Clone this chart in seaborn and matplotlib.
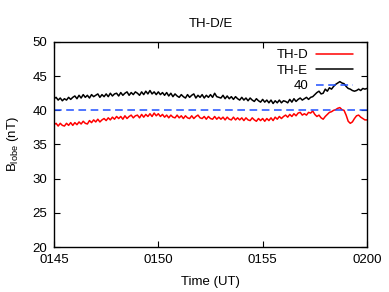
import numpy as np
import pandas as pd
import matplotlib
matplotlib.use("Agg")
import matplotlib.pyplot as plt
import seaborn as sns

# minutes after 01:45 UT, 0.1-min sampling
minutes = np.round(np.arange(0, 151) * 0.1, 1)

th_e = [
    41.7, 41.9, 41.5, 41.8, 41.4, 41.7, 41.5, 41.9, 41.6, 41.9,
    42.1, 41.7, 42.2, 41.8, 42.3, 41.9, 42.2, 41.8, 42.3, 42.0,
    42.2, 42.4, 41.9, 42.3, 42.0, 42.4, 42.0, 42.5, 42.1, 42.4,
    42.5, 42.1, 42.6, 42.2, 42.5, 42.7, 42.2, 42.6, 42.3, 42.7,
    42.5, 42.2, 42.7, 42.3, 42.8, 42.4, 42.9, 42.4, 42.7, 42.3,
    42.7, 42.3, 42.6, 42.2, 42.6, 42.1, 42.5, 42.0, 42.4, 42.1,
    41.9, 42.3, 42.0, 41.8, 42.3, 41.9, 42.2, 42.4, 41.8, 42.2,
    41.9, 42.3, 41.8, 42.2, 41.9, 42.3, 41.9, 42.5, 42.0, 41.9,
    41.8, 42.2, 41.7, 42.1, 41.7, 42.0, 41.6, 42.0, 41.7, 41.5,
    41.9, 41.5, 41.8, 41.4, 41.8, 41.5, 41.3, 41.7, 41.4, 41.2,
    41.6, 41.2, 41.5, 41.1, 41.5, 41.0, 41.4, 41.1, 41.5, 41.1,
    41.4, 41.3, 41.1, 41.6, 41.2, 41.7, 41.3, 41.6, 41.8, 41.5,
    41.7, 41.9, 41.6, 41.9, 42.0, 42.3, 42.6, 42.8, 42.4, 42.5,
    43.1, 42.8, 43.3, 43.1, 43.5, 43.8, 44.0, 44.2, 44.0, 43.9,
    43.5, 43.2, 43.1, 42.9, 42.8, 42.9, 43.1, 42.9, 43.2, 43.1,
    43.2,
]

th_d = [
    37.9, 38.1, 37.7, 38.1, 37.8, 37.7, 38.1, 37.8, 38.2, 37.8,
    38.2, 37.9, 38.3, 38.0, 38.4, 38.1, 38.0, 38.5, 38.2, 38.6,
    38.3, 38.7, 38.3, 38.6, 38.8, 38.5, 38.9, 38.6, 39.0, 38.7,
    39.1, 38.8, 39.1, 38.7, 39.2, 38.8, 39.1, 39.3, 38.9, 39.2,
    39.3, 38.9, 39.4, 39.0, 39.4, 39.1, 39.5, 39.1, 39.6, 39.2,
    39.5, 39.1, 39.4, 39.0, 39.3, 38.9, 39.3, 39.0, 38.9, 39.3,
    38.9, 39.2, 38.8, 39.2, 38.9, 38.8, 39.2, 38.8, 39.1, 39.3,
    38.9, 38.8, 39.1, 38.7, 39.1, 38.8, 38.7, 39.1, 38.7, 39.0,
    38.7, 39.0, 38.6, 39.0, 38.7, 38.6, 39.0, 38.6, 38.9, 38.6,
    38.9, 38.5, 38.9, 38.6, 38.5, 38.9, 38.6, 38.4, 38.8, 38.5,
    38.8, 38.4, 38.8, 38.5, 38.9, 38.5, 39.0, 38.7, 39.1, 38.8,
    39.1, 39.3, 39.0, 39.4, 39.1, 39.5, 39.2, 39.6, 39.7, 39.3,
    39.5, 39.3, 39.7, 39.6, 39.9, 39.4, 39.1, 39.3, 38.9, 38.7,
    39.1, 39.4, 39.7, 39.8, 40.0, 40.1, 40.3, 40.4, 40.1, 40.0,
    39.3, 38.4, 38.1, 38.3, 38.8, 39.2, 39.3, 39.0, 38.8, 38.6,
    38.6,
]

threshold = 40
x_ticks = [0, 5, 10, 15]
x_ticklabels = ["0145", "0150", "0155", "0200"]
y_ticks = [20, 25, 30, 35, 40, 45, 50]

df = pd.DataFrame({"t": minutes, "TH-D": th_d, "TH-E": th_e})

sns.set_style("ticks")
plt.rcParams["font.family"] = ["Liberation Sans", "DejaVu Sans"]
plt.rcParams["text.color"] = "black"
plt.rcParams["axes.labelcolor"] = "black"

fig = plt.figure(figsize=(3.89, 2.92), dpi=100)
ax = fig.add_axes([0.1388, 0.1541, 0.8046, 0.7021])

sns.lineplot(data=df, x="t", y="TH-D", ax=ax, color="#ff0000", lw=1.1, label="TH-D")
sns.lineplot(data=df, x="t", y="TH-E", ax=ax, color="#000000", lw=1.1, label="TH-E")
ax.axhline(threshold, color="#1f4fff", lw=1.1, dashes=(5, 3), label=str(threshold))

ax.set_xlim(0, 15)
ax.set_ylim(20, 50)
ax.set_xticks(x_ticks)
ax.set_xticklabels(x_ticklabels)
ax.set_yticks(y_ticks)
ax.tick_params(direction="in", length=4, width=0.8, labelsize=9.5, top=True, right=True,
               colors="black")
ax.tick_params(axis="x", pad=5)
ax.tick_params(axis="y", pad=5)
for s in ax.spines.values():
    s.set_linewidth(1.0)
    s.set_color("black")

ax.set_title("TH-D/E", fontsize=9.5, pad=11, color="black")
ax.set_xlabel("Time (UT)", fontsize=9.5, labelpad=7)
ax.set_ylabel(r"B$_{\mathregular{lobe}}$ (nT)", fontsize=9.5, labelpad=8)

leg = ax.legend(loc="upper right", bbox_to_anchor=(0.955, 0.965), frameon=False,
                markerfirst=False, fontsize=9.5, handlelength=2.8, handletextpad=0.6,
                labelspacing=0.25, borderaxespad=0.0, borderpad=0.0)
for txt in leg.get_texts():
    txt.set_color("black")

fig.savefig("out.png", dpi=100)
